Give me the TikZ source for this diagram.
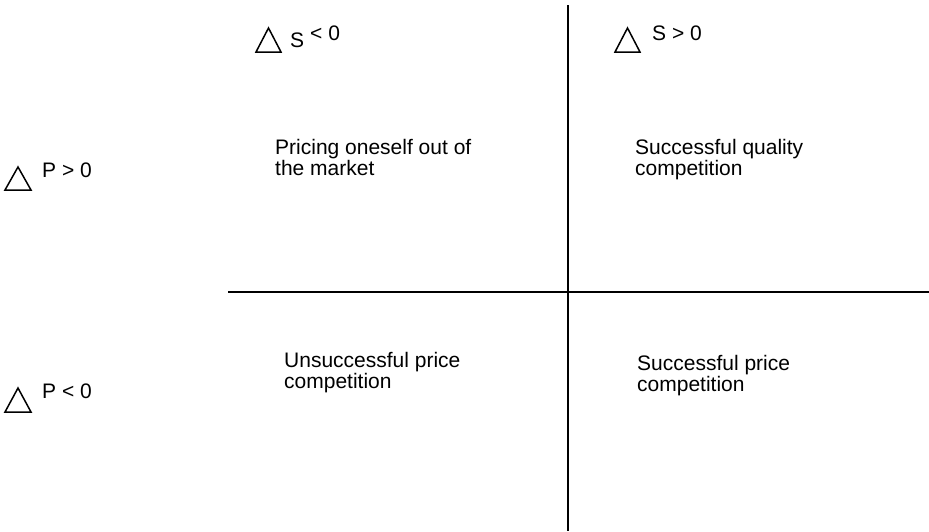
\documentclass[tikz,border=0pt]{standalone}
\usepackage{fontspec}
\setmainfont{Liberation Sans}
\begin{document}
\begin{tikzpicture}[x=1pt,y=-1pt,
  axis/.style={line width=1.6pt},
  tri/.style={line width=1.5pt, line join=miter},
  lbl/.style={anchor=base west, inner sep=0pt, font=\fontsize{21}{21}\selectfont, align=left},
  sym/.style={anchor=base west, inner sep=0pt, font=\fontsize{21}{21}\selectfont}]
\useasboundingbox (0,0) rectangle (929,531);
% axes
\coordinate (vt) at (568,5);
\coordinate (vb) at (568,531);
\coordinate (hl) at (228,292);
\coordinate (hr) at (929,292);
\draw[axis] (vt) -- (vb);
\draw[axis] (hl) -- (hr);
% delta S < 0
\draw[tri] (256,52) -- (281,52) -- (268.5,28) -- cycle;
\node[sym] (s1) at (290,47) {S};
\node[sym] (s1b) at (310,40) {< 0};
% delta S > 0
\draw[tri] (615,52) -- (640,52) -- (627.5,28) -- cycle;
\node[sym] (s2) at (652,40) {S > 0};
% delta P > 0
\draw[tri] (5,190) -- (31,190) -- (18,167) -- cycle;
\node[sym] (p1) at (42,177) {P > 0};
% delta P < 0
\draw[tri] (5,412) -- (31,412) -- (18,388) -- cycle;
\node[sym] (p2) at (42,398) {P < 0};
% quadrant texts (base anchor = baseline of last line)
\node[lbl] (q1) at (275,175) {Pricing oneself out of\\the market};
\node[lbl] (q2) at (635,175) {Successful quality\\competition};
\node[lbl] (q3) at (284,388) {Unsuccessful price\\competition};
\node[lbl] (q4) at (637,391) {Successful price\\competition};
\end{tikzpicture}
\end{document}
